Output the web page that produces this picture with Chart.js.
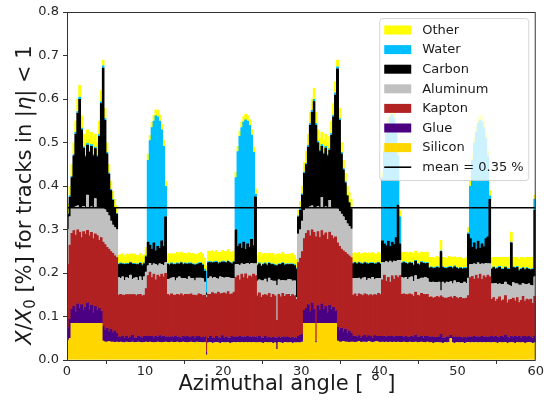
<!DOCTYPE html>
<html>
<head>
<meta charset="utf-8">
<script src="https://cdn.jsdelivr.net/npm/chart.js@4.4.1/dist/chart.umd.min.js"></script>
<style>
  html, body { margin: 0; padding: 0; background: #fff; }
  #wrap { width: 544px; height: 405px; position: relative; }
</style>
</head>
<body>
<div id="wrap"><canvas id="budget"></canvas></div>
<script>
// Material budget vs azimuthal angle, 0.25 deg bins from 0 to 60 deg
const binWidth = 0.25;
const phiMin = 0;
const phiMax = 60;
const meanValue = 0.35;
const xTicks = [0, 10, 20, 30, 40, 50, 60];
const yTicks = [0.0, 0.1, 0.2, 0.3, 0.4, 0.5, 0.6, 0.7, 0.8];

const materialNames = ['Silicon', 'Glue', 'Kapton', 'Aluminum', 'Carbon', 'Water', 'Other'];
const materialColors = ['#ffd700', '#4b0082', '#b22222', '#c0c0c0', '#000000', '#00bfff', '#ffff00'];

// contribution of each material per bin, in units of 0.001 % X0
const silicon = [
  45,50,85,85,85,85,85,85,85,85,85,85,85,85,85,85,85,85,44,42,42,43,42,42,41,42,
  41,42,41,40,42,41,41,42,40,41,42,41,40,41,42,
  41,42,41,40,41,42,41,40,41,42,
  41,40,42,41,41,42,40,41,42,41,40,41,42,41,40,42,41,41,40,
  41,12,
  40,41,39,40,41,40,39,41,40,40,41,39,40,41,
  40,41,40,41,40,41,40,41,40,41,40,
  40,41,40,39,41,40,40,41,39,40,25,41,40,39,41,40,40,41,39,40,40,
  40,40,42,85,
  85,85,85,85,85,40,85,85,85,85,85,85,85,85,85,85,
  44,42,42,43,42,42,41,42,
  42,41,42,43,41,42,42,41,43,42,41,42,43,42,41,
  42,41,42,41,42,41,42,41,42,41,
  41,42,41,40,42,41,41,42,40,41,42,41,40,42,
  40,41,39,40,41,40,40,39,41,40,41,50,40,39,41,40,40,41,39,40,41,
  40,41,40,41,40,41,40,41,40,41,40,
  40,41,40,39,41,40,40,41,39,40,41,40,39,41,40,40,41,39,40,41,40,39,40
];
const glue = [
  30,45,33,40,27,45,35,43,30,37,47,33,42,25,39,31,35,28,34,28,32,23,30,22,27,20,
  13,11,15,12,14,10,13,16,12,11,14,13,12,15,13,
  14,13,15,12,14,12,16,13,15,12,
  12,14,11,13,15,12,13,11,14,12,16,13,11,14,12,13,15,12,13,
  13,8,
  12,15,13,11,14,12,13,16,12,14,11,13,15,12,
  14,12,15,13,14,12,15,13,14,12,14,
  12,14,11,13,15,12,13,11,14,12,27,13,11,15,12,14,13,11,14,12,12,
  15,18,18,30,
  35,43,27,47,33,5,41,30,45,32,39,25,42,33,37,29,
  32,28,32,23,30,22,27,20,
  13,15,12,14,11,13,16,12,14,13,11,15,12,13,14,
  13,15,12,14,13,15,12,14,13,14,
  14,12,15,13,11,14,12,16,13,12,14,11,15,13,
  14,12,15,13,12,14,20,13,11,14,12,8,13,15,12,14,13,11,14,12,13,
  14,12,15,13,14,12,15,13,14,12,14,
  15,13,16,14,12,15,13,17,14,12,15,14,16,13,15,12,14,16,13,15,14,12,15
];
const kapton = [
  145,170,174,173,176,170,175,154,181,168,167,168,167,170,167,171,156,169,194,196,186,190,178,182,172,174,
  96,99,94,98,95,100,97,93,99,97,95,98,96,94,110,
  140,148,134,146,130,142,135,145,136,146,
  99,95,100,96,94,98,97,101,93,99,96,97,100,95,98,94,97,99,96,
  96,125,
  100,96,104,102,98,105,101,97,103,99,106,100,98,104,
  136,142,130,144,136,146,133,140,138,145,140,
  96,100,94,98,95,97,101,93,99,96,40,98,95,100,94,97,99,95,98,96,88,
  170,177,190,165,
  172,170,174,168,176,239,170,167,168,171,169,168,168,169,158,170,
  194,192,182,186,176,180,172,174,
  95,97,93,96,99,94,95,98,92,96,97,94,95,99,96,
  130,140,128,136,125,138,132,140,135,140,
  97,99,95,98,100,96,94,99,97,95,98,100,96,97,
  91,93,89,92,94,90,88,93,91,89,92,88,90,93,91,88,92,90,89,91,95,
  136,140,132,142,134,145,131,140,136,143,138,
  85,90,80,88,93,82,86,91,79,87,84,89,82,90,78,86,92,81,88,83,87,80,92
];
const aluminum = [
  80,65,60,52,65,55,57,68,58,60,81,66,59,70,81,64,74,70,78,80,80,76,70,65,65,64,
  40,36,42,34,39,37,45,35,38,41,33,40,36,42,38,
  22,20,28,24,35,21,30,22,26,25,
  34,38,36,40,33,37,42,35,39,36,34,41,35,38,33,40,36,37,39,
  30,5,
  36,40,32,38,35,30,39,36,34,38,33,37,35,31,
  30,25,33,24,30,22,35,26,31,24,28,
  34,30,38,33,36,31,35,39,30,34,80,33,37,30,36,32,34,38,31,35,5,
  65,65,70,65,
  60,52,67,55,58,66,58,68,77,64,60,72,73,64,72,66,
  78,80,80,78,74,70,68,66,
  38,35,41,36,34,40,37,33,39,36,42,35,38,34,37,
  40,28,45,33,48,30,42,32,40,35,
  38,36,40,35,37,41,34,38,36,39,35,37,40,36,
  35,33,37,34,32,36,12,35,33,37,34,35,33,36,34,37,32,35,38,34,40,
  30,27,35,24,36,22,36,27,33,26,30,
  36,32,41,34,30,38,35,31,42,33,30,36,39,32,40,35,30,38,33,37,31,40,45
];
const carbon = [
  35,45,68,120,167,213,248,180,134,118,115,126,139,120,115,117,165,238,322,206,135,96,70,57,45,36,
  30,34,29,36,31,33,28,35,32,30,36,31,34,30,35,
  55,42,38,48,32,45,36,55,44,105,
  35,32,33,30,37,33,29,36,32,34,35,30,34,32,36,31,33,34,31,
  25,5,
  37,33,36,34,38,35,32,36,37,33,36,35,34,38,
  80,42,50,36,52,34,45,40,55,42,154,
  36,37,33,37,35,38,34,36,38,36,45,35,37,39,36,37,34,35,38,35,65,
  40,45,60,85,
  98,140,187,215,243,190,146,130,117,122,135,120,115,167,208,260,
  322,210,139,108,86,64,54,46,
  34,36,33,35,37,32,34,38,33,36,32,35,34,36,33,
  50,44,36,50,34,48,38,55,127,38,
  33,36,32,35,34,31,37,33,35,32,36,34,31,35,
  32,34,31,33,35,32,90,33,35,31,34,33,35,32,34,31,35,33,31,34,101,
  60,40,48,36,50,38,46,40,57,62,148,
  34,37,33,36,38,34,35,33,36,37,100,34,36,38,33,36,35,34,37,33,36,38,153
];
const water = [
  2,3,3,3,4,4,5,4,3,3,3,3,4,3,3,3,4,4,5,4,3,3,3,2,2,2,
  2,2,2,2,2,2,2,2,2,2,2,2,2,2,2,
  188,240,279,280,310,298,292,255,230,70,
  2,2,2,2,2,2,2,2,2,2,2,2,2,2,2,2,2,2,2,
  5,50,
  2,2,2,2,2,2,2,2,2,2,2,2,2,2,
  120,218,247,277,276,298,282,280,240,214,6,
  2,2,2,2,2,2,2,2,2,2,2,2,2,2,2,2,2,2,2,2,2,
  2,3,3,3,
  3,4,4,5,5,4,3,3,4,3,4,3,4,4,4,5,
  5,4,3,3,3,2,2,2,
  2,2,2,2,2,2,2,2,2,2,2,2,2,2,2,
  145,212,257,271,298,293,289,248,113,62,
  2,2,2,2,2,2,2,2,2,2,2,2,2,2,
  2,2,2,2,2,2,2,2,2,2,2,2,2,2,2,2,2,2,2,2,3,
  120,200,230,269,271,294,280,274,230,186,8,
  2,2,2,2,2,2,2,2,2,2,2,2,2,2,2,2,2,2,2,2,2,2,25
];
const other = [
  23,22,27,27,26,28,27,28,29,29,32,29,29,29,30,29,31,26,13,24,22,19,19,18,18,17,
  20,19,22,18,21,20,19,21,22,20,19,21,20,19,20,
  14,12,12,13,14,15,13,12,14,12,
  22,24,21,23,22,24,21,23,24,22,21,23,22,24,23,21,22,23,24,
  25,12,
  24,23,26,22,25,24,23,25,22,24,26,23,25,24,
  12,12,12,13,12,13,12,13,12,12,12,
  22,24,21,23,22,24,21,23,24,22,25,23,22,24,23,21,22,23,24,22,20,
  13,17,17,22,
  27,26,26,25,26,26,27,27,29,28,28,27,28,28,26,25,
  15,24,22,19,19,20,21,20,
  22,21,23,22,20,23,21,22,24,21,23,22,21,23,22,
  13,12,12,13,12,12,13,12,12,14,
  23,21,24,22,23,22,24,21,23,24,22,23,21,24,
  23,22,24,21,23,22,24,22,23,21,24,22,23,21,22,24,23,22,21,23,12,
  12,12,12,13,12,13,12,13,12,12,12,
  23,22,25,24,21,26,23,22,25,26,23,22,23,21,24,26,23,25,24,26,27,26,10
];

const layers = [silicon, glue, kapton, aluminum, carbon, water, other];
const nBins = Math.round((phiMax - phiMin) / binWidth);
layers.forEach((arr, k) => {
  if (arr.length !== nBins) throw new Error(materialNames[k] + ' has ' + arr.length + ' bins');
});

const binCenters = silicon.map((_, i) => phiMin + (i + 0.5) * binWidth);

const FONT = "'DejaVu Sans', sans-serif";
Chart.defaults.font.family = FONT;
Chart.defaults.color = '#262626';

// thin side borders in the bar colour, so inflateAmount closes the seams between bins
const datasets = layers.map((arr, k) => ({
  label: materialNames[k],
  data: arr.map((v, i) => ({ x: binCenters[i], y: v / 1000 })),
  backgroundColor: materialColors[k],
  borderColor: materialColors[k],
  borderWidth: { left: 0.3, right: 0.3, top: 0, bottom: 0 },
  borderSkipped: false,
  inflateAmount: 0.5,
  barPercentage: 1,
  categoryPercentage: 1
}));

// horizontal line at the mean value, then the axes box
const meanLine = {
  id: 'meanLine',
  afterDatasetsDraw(chart) {
    const { ctx, chartArea } = chart;
    const y = chart.scales.y.getPixelForValue(meanValue);
    ctx.save();
    ctx.strokeStyle = '#000';
    ctx.lineWidth = 1.6;
    ctx.beginPath();
    ctx.moveTo(chartArea.left, y);
    ctx.lineTo(chartArea.right, y);
    ctx.stroke();
    ctx.strokeStyle = '#333';
    ctx.lineWidth = 1;
    ctx.strokeRect(chartArea.left + 0.5, chartArea.top + 0.5,
      chartArea.right - chartArea.left - 1, chartArea.bottom - chartArea.top);
    ctx.restore();
  }
};

// legend box in the upper right corner, plus axis titles
const legendAndTitles = {
  id: 'legendAndTitles',
  afterDraw(chart) {
    const { ctx, chartArea } = chart;
    const bx = chartArea.right - 156.5, by = chartArea.top + 6;
    const bw = 149, bh = 162;
    ctx.save();
    ctx.fillStyle = 'rgba(255,255,255,0.8)';
    ctx.strokeStyle = 'rgba(204,204,204,0.8)';
    ctx.lineWidth = 1;
    ctx.beginPath();
    ctx.roundRect(bx + 0.5, by + 0.5, bw, bh, 3);
    ctx.fill();
    ctx.stroke();

    ctx.font = '13px ' + FONT;
    ctx.textBaseline = 'middle';
    ctx.textAlign = 'left';
    const rowH = 19.6;
    const px = bx + 5;
    let y = by + 12;
    for (let k = layers.length - 1; k >= 0; k--) {
      ctx.fillStyle = materialColors[k];
      ctx.fillRect(px, y - 4.5, 27, 9);
      ctx.fillStyle = '#1a1a1a';
      ctx.fillText(materialNames[k], px + 38, y + 0.5);
      y += rowH;
    }
    ctx.strokeStyle = '#000';
    ctx.lineWidth = 1.6;
    ctx.beginPath();
    ctx.moveTo(px, y);
    ctx.lineTo(px + 27, y);
    ctx.stroke();
    ctx.fillStyle = '#1a1a1a';
    ctx.fillText('mean = ' + meanValue + ' %', px + 38, y + 0.5);

    // x title
    ctx.font = '21px ' + FONT;
    ctx.textAlign = 'center';
    ctx.textBaseline = 'alphabetic';
    ctx.fillText('Azimuthal angle [ \u00b0 ]', 287, 390);

    // y title, drawn in pieces for the italic symbols and subscript
    const parts = [
      { t: 'X', f: 'italic 21px ' + FONT, dy: 0 },
      { t: '/', f: '21px ' + FONT, dy: 0 },
      { t: 'X', f: 'italic 21px ' + FONT, dy: 0 },
      { t: '0', f: '15px ' + FONT, dy: 4 },
      { t: ' [%] for tracks in |', f: '21px ' + FONT, dy: 0 },
      { t: '\u03b7', f: 'italic 21px ' + FONT, dy: 0 },
      { t: '| < 1', f: '21px ' + FONT, dy: 0 }
    ];
    let total = 0;
    parts.forEach(p => { ctx.font = p.f; p.w = ctx.measureText(p.t).width; total += p.w; });
    ctx.translate(23.5, 195);
    ctx.rotate(-Math.PI / 2);
    ctx.textAlign = 'left';
    let cx = -total / 2;
    parts.forEach(p => {
      ctx.font = p.f;
      ctx.fillText(p.t, cx, 7.5 + p.dy);
      cx += p.w;
    });
    ctx.restore();
  }
};

new Chart(document.getElementById('budget'), {
  type: 'bar',
  data: { datasets },
  options: {
    responsive: true,
    maintainAspectRatio: false,
    animation: false,
    events: [],
    layout: { padding: { top: 12, right: 8, left: 0, bottom: 0 } },
    plugins: {
      legend: { display: false },
      tooltip: { enabled: false }
    },
    scales: {
      x: {
        type: 'linear',
        stacked: true,
        min: phiMin,
        max: phiMax,
        offset: false,
        afterBuildTicks: s => { s.ticks = xTicks.map(v => ({ value: v })); },
        afterFit: s => { s.height = 45; },
        grid: { drawOnChartArea: false, tickLength: 4, color: '#333' },
        border: { display: false },
        ticks: { font: { size: 13 }, padding: 0, maxRotation: 0, color: '#262626' }
      },
      y: {
        stacked: true,
        min: 0,
        max: 0.8,
        afterBuildTicks: s => { s.ticks = yTicks.map(v => ({ value: v })); },
        afterFit: s => { s.width = 67; },
        grid: { drawOnChartArea: false, tickLength: 4, color: '#333' },
        border: { display: false },
        ticks: { font: { size: 13 }, padding: 4, color: '#262626', callback: v => v.toFixed(1) }
      }
    }
  },
  plugins: [meanLine, legendAndTitles]
});
</script>
</body>
</html>
